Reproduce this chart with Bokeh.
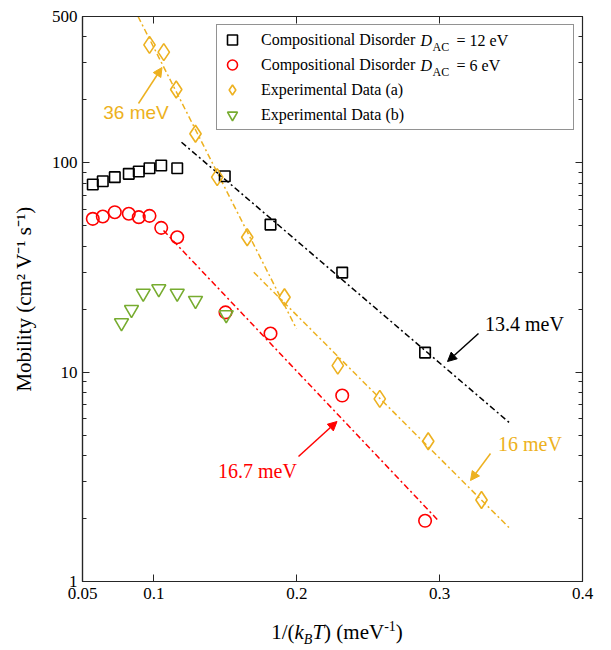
import numpy as np
from bokeh.plotting import figure
from bokeh.layouts import column
from bokeh.models import (LinearAxis, LogAxis, FixedTicker, Range1d, Legend, LegendItem,
                          Label, Arrow, NormalHead, CustomJSTickFormatter, Div)
from bokeh.embed import file_html
from bokeh.resources import INLINE

# ---------------- data ----------------
x_d12 = [0.0572, 0.0642, 0.0726, 0.0824, 0.0894, 0.0969, 0.1051, 0.1163, 0.1496, 0.1816, 0.2318, 0.2898]
mu_d12 = [78.8, 81.7, 85.4, 88.6, 90.9, 94.2, 97.1, 94.2, 86.3, 50.7, 29.9, 12.4]

x_d6 = [0.0572, 0.0642, 0.0726, 0.0824, 0.0894, 0.0969, 0.1051, 0.1163, 0.1501, 0.1816, 0.2318, 0.2898]
mu_d6 = [54.0, 55.4, 58.1, 57.1, 55.0, 55.8, 48.9, 44.1, 19.3, 15.3, 7.73, 1.95]

x_exp_a = [0.0969, 0.1069, 0.1156, 0.1291, 0.1443, 0.1653, 0.1914, 0.2287, 0.2581, 0.2920, 0.3293]
mu_exp_a = [366, 338, 224, 137.6, 85.4, 44.1, 22.8, 10.75, 7.45, 4.68, 2.45]

x_exp_b = [0.0773, 0.0843, 0.0925, 0.1034, 0.1163, 0.1291, 0.1506]
mu_exp_b = [17.2, 19.9, 23.8, 25.0, 23.8, 22.0, 18.8]

# Arrhenius fit lines (end points)
fit_d12_x = [0.1193, 0.3496]
fit_d12_mu = [125.4, 5.68]
fit_d6_x = [0.1067, 0.2992]
fit_d6_mu = [47.5, 1.95]
fit_a_steep_x = [0.0889, 0.1998]
fit_a_steep_mu = [500.0, 16.1]
fit_a_shallow_x = [0.1699, 0.3496]
fit_a_shallow_mu = [30.0, 1.78]

x_ticks = [0.05, 0.1, 0.2, 0.3, 0.4]
y_ticks = [1, 10, 100, 500]
y_minor = [2, 3, 4, 5, 6, 7, 8, 9, 20, 30, 40, 50, 60, 70, 80, 90, 200, 300, 400]

legend_labels = ["Compositional Disorder", "Compositional Disorder",
                 "Experimental Data (a)", "Experimental Data (b)"]
fit_labels = ["36 meV", "13.4 meV", "16 meV", "16.7 meV"]

# ---------------- styling ----------------
BLACK = "#000000"
RED = "#ff0000"
ORANGE = "#EDB120"
GREEN = "#77AC30"
AXC = "#262626"
SERIF = "Liberation Serif"
SANS = "Liberation Sans"

X0, X1 = 0.05, 0.4
Y0, Y1 = 1, 500
FL, FT, FW, FH = 82, 16, 500, 565  # frame position in the picture (px)
FIG_W = 603


def dx(px):
    return X0 + (px - FL) / FW * (X1 - X0)


def dy(py):
    ly0, ly1 = np.log10(Y0), np.log10(Y1)
    return 10 ** (ly1 - (py - FT) / FH * (ly1 - ly0))


p = figure(frame_width=FW, frame_height=FH,
           x_range=Range1d(X0, X1), y_range=Range1d(Y0, Y1),
           y_axis_type="log", output_backend="svg", toolbar_location=None,
           min_border_left=FL, min_border_top=FT, min_border_right=FIG_W - FL - FW,
           min_border_bottom=33)
p.grid.visible = False
p.outline_line_color = AXC
p.outline_line_width = 1.2
p.background_fill_color = "white"
p.border_fill_color = "white"

xt = FixedTicker(ticks=x_ticks, minor_ticks=[])
yt = FixedTicker(ticks=y_ticks, minor_ticks=y_minor)
fmt = CustomJSTickFormatter(code="return tick.toString();")

for ax in p.xaxis:
    ax.ticker = xt
    ax.formatter = fmt
for ax in p.yaxis:
    ax.ticker = yt
    ax.formatter = fmt

for ax in list(p.xaxis) + list(p.yaxis):
    ax.axis_line_color = AXC
    ax.axis_line_width = 1.2
    ax.major_tick_line_color = AXC
    ax.minor_tick_line_color = AXC
    ax.major_tick_in = 7
    ax.major_tick_out = 0
    ax.minor_tick_in = 4
    ax.minor_tick_out = 0
    ax.major_label_text_font = SERIF
    ax.major_label_text_font_size = "17px"
    ax.major_label_text_color = "#000000"
    ax.axis_label_text_font = SERIF
    ax.axis_label_text_font_size = "21px"
    ax.axis_label_text_font_style = "normal"
    ax.axis_label_text_color = "#000000"

p.xaxis.major_label_standoff = 6
p.yaxis.major_label_standoff = 5
p.yaxis.axis_label = "Mobility (cm\u00b2 V\u207b\u00b9 s\u207b\u00b9)"
p.yaxis.axis_label_standoff = 13

# mirrored axes (ticks only)
top = LinearAxis(ticker=xt, major_label_text_color=None, major_label_text_font_size="1px",
                 major_label_standoff=0, axis_line_color=AXC, major_tick_line_color=AXC,
                 major_tick_in=7, major_tick_out=0, minor_tick_out=0, minor_tick_in=0)
p.add_layout(top, "above")
right = LogAxis(ticker=yt, major_label_text_color=None, major_label_text_font_size="1px",
                major_label_standoff=0, axis_line_color=AXC, major_tick_line_color=AXC,
                minor_tick_line_color=AXC, major_tick_in=7, major_tick_out=0,
                minor_tick_in=4, minor_tick_out=0)
p.add_layout(right, "right")

# ---------------- fit lines ----------------
dash = "6 3 2 3"
p.line(fit_d12_x, fit_d12_mu, line_color=BLACK, line_width=1.5, line_dash=dash)
p.line(fit_d6_x, fit_d6_mu, line_color=RED, line_width=1.5, line_dash=dash)
p.line(fit_a_steep_x, fit_a_steep_mu, line_color=ORANGE, line_width=1.5, line_dash=dash)
p.line(fit_a_shallow_x, fit_a_shallow_mu, line_color=ORANGE, line_width=1.5, line_dash=dash)

# ---------------- markers ----------------
r1 = p.scatter(x_d12, mu_d12, marker="square", size=10.5, fill_color=None,
               line_color=BLACK, line_width=1.6)
r2 = p.scatter(x_d6, mu_d6, marker="circle", size=12.5, fill_color=None,
               line_color=RED, line_width=1.6)
r3 = p.scatter(x_exp_a, mu_exp_a, marker="diamond", size=17, fill_color=None,
               line_color=ORANGE, line_width=1.6)
r4 = p.scatter(x_exp_b, mu_exp_b, marker="inverted_triangle", size=14, fill_color=None,
               line_color=GREEN, line_width=1.6)

# ---------------- legend ----------------
legend = Legend(items=[LegendItem(label=legend_labels[0], renderers=[r1]),
                       LegendItem(label=legend_labels[1], renderers=[r2]),
                       LegendItem(label=legend_labels[2], renderers=[r3]),
                       LegendItem(label=legend_labels[3], renderers=[r4])],
                location="top_right", margin=8, padding=2, spacing=0,
                glyph_width=26, glyph_height=25, label_height=25, label_width=310,
                label_standoff=16, label_text_font=SERIF, label_text_font_size="16px",
                label_text_color="#000000",
                border_line_color=AXC, border_line_width=1.2,
                background_fill_color="white", background_fill_alpha=0.0)
p.add_layout(legend)

# subscripted parts of the first two legend entries
row_y = [39.5, 64.5]
for ry, ev in zip(row_y, ["= 12 eV", "= 6 eV"]):
    p.add_layout(Label(x=dx(420), y=dy(ry), text="D", text_font=SERIF, text_font_size="16px",
                       text_font_style="italic", text_baseline="middle", text_align="left",
                       text_color="#000000"))
    p.add_layout(Label(x=dx(432), y=dy(ry + 7), text="AC", text_font=SERIF,
                       text_font_size="12px", text_baseline="middle", text_align="left",
                       text_color="#000000"))
    p.add_layout(Label(x=dx(456), y=dy(ry), text=ev, text_font=SERIF, text_font_size="16px",
                       text_baseline="middle", text_align="left", text_color="#000000"))

# ---------------- annotations ----------------
ann = [
    (fit_labels[0], (135.5, 112), (138, 103), (161.5, 67), ORANGE, SANS, "19px"),
    (fit_labels[1], (524, 323), (478, 333), (447, 361), BLACK, SERIF, "20px"),
    (fit_labels[2], (529.5, 443), (490, 453), (470, 480), ORANGE, SERIF, "20px"),
    (fit_labels[3], (257, 470), (298, 456), (336.5, 421), RED, SERIF, "20px"),
]
for txt, (tx, ty), (ax0, ay0), (ax1, ay1), col, font, fs in ann:
    p.add_layout(Label(x=dx(tx), y=dy(ty), text=txt, text_font=font, text_font_size=fs,
                       text_align="center", text_baseline="middle", text_color=col))
    p.add_layout(Arrow(x_start=dx(ax0), y_start=dy(ay0), x_end=dx(ax1), y_end=dy(ay1),
                       line_color=col, line_width=1.5,
                       end=NormalHead(size=9, fill_color=col, line_color=col, line_width=1)))

# ---------------- x axis label (italic k_B T), as real text below the figure ----------------
xlabel_html = (
    f'<div style="width:{FW}px;margin-left:{FL}px;text-align:center;'
    f'font-family:\'{SERIF}\';font-size:21px;line-height:26px;color:#000;white-space:nowrap;">'
    '1/(<i>k</i><sub style="font-size:14px;line-height:0;"><i>B</i></sub><i>T</i>) '
    '(meV<sup style="font-size:14px;line-height:0;">-1</sup>)</div>'
)
xlabel = Div(text=xlabel_html, width=FIG_W, height=28)

layout = column(p, xlabel, spacing=0)
open("out.html", "w").write(file_html(layout, INLINE))
